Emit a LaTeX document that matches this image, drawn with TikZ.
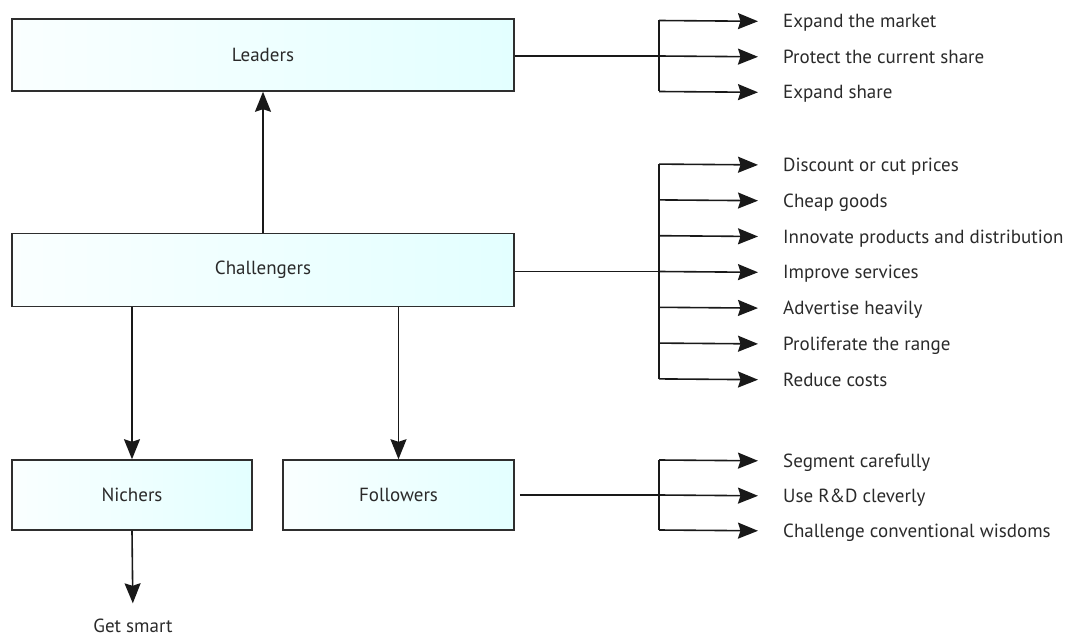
\documentclass[tikz,border=0pt]{standalone}
\usepackage{fontspec}
\setmainfont{PT Sans}
\usetikzlibrary{arrows.meta}
\definecolor{edge}{HTML}{2E2E2E}
\definecolor{ink}{HTML}{2A2A2A}
\begin{document}
\begin{tikzpicture}[x=1pt,y=-1pt,
  lbl/.style={font=\fontsize{19}{22}\selectfont, text=ink},
  box/.style={lbl, draw=edge, line width=1.5pt, left color=cyan!2, right color=cyan!11,
    inner sep=0pt, minimum height=72pt},
  item/.style={lbl, anchor=west, inner sep=0pt, text height=13pt, text depth=0pt},
  wire/.style={line width=1.6pt, draw=black!90},
  arr/.style={wire, -{Stealth[length=20pt,width=16pt,inset=2.5pt]}},
  tolabel/.style={arr, shorten >=25pt}
]
\useasboundingbox (0,0) rectangle (1069,639);

% strategy boxes
\node[box, minimum width=502pt] (ld) at (263,55) {Leaders};
\node[box, minimum width=502pt, minimum height=73pt] (ch) at (263,270) {Challengers};
\node[box, minimum width=240pt, minimum height=70pt] (ni) at (132,495) {Nichers};
\node[box, minimum width=231pt, minimum height=70pt] (fo) at (398.5,495) {Followers};
\node[lbl, inner sep=0pt, text height=13pt, text depth=0pt] (gs) at (133,626) {Get smart};

% connections between the boxes
\draw[arr] (ch.north) -- (ld.south);
\draw[arr] (ch.south -| ni.north) -- (ni.north);
\draw[arr] (ch.south -| fo.north) -- (fo.north);
\draw[arr, shorten >=16pt] (ni.south) -- (gs.north);

% leaders' options
\coordinate (l1) at (659,20.5);
\coordinate (l2) at (659,56);
\coordinate (l3) at (659,91.5);
\node[item] (lt1) at (783,21.5) {Expand the market};
\node[item] (lt2) at (783,57) {Protect the current share};
\node[item] (lt3) at (783,92.5) {Expand share};
\draw[wire] (ld.east |- l2) -- (l2);
\draw[wire] (l1) -- (l3);
\draw[tolabel] (l1) -- (lt1.west);
\draw[tolabel] (l2) -- (lt2.west);
\draw[tolabel] (l3) -- (lt3.west);

% challengers' options
\foreach \k/\t in {1/Discount or cut prices, 2/Cheap goods,
    3/Innovate products and distribution, 4/Improve services,
    5/Advertise heavily, 6/Proliferate the range, 7/Reduce costs} {
  \coordinate (c\k) at (659,{164.1+(\k-1)*35.8});
  \node[item] (ct\k) at (783,{165.1+(\k-1)*35.8}) {\t};
  \draw[tolabel] (c\k) -- (ct\k.west);
}
\draw[wire] (ch.east |- c4) -- (c4);
\draw[wire] (c1) -- (c7);

% followers' options
\coordinate (f1) at (659,460);
\coordinate (f2) at (659,495);
\coordinate (f3) at (659,530);
\node[item] (ft1) at (783,461) {Segment carefully};
\node[item] (ft2) at (783,496) {Use R\&D cleverly};
\node[item] (ft3) at (783,531) {Challenge conventional wisdoms};
\draw[wire, shorten <=5pt] (fo.east) -- (f2);
\draw[wire] (f1) -- (f3);
\draw[tolabel] (f1) -- (ft1.west);
\draw[tolabel] (f2) -- (ft2.west);
\draw[tolabel] (f3) -- (ft3.west);
\end{tikzpicture}
\end{document}
